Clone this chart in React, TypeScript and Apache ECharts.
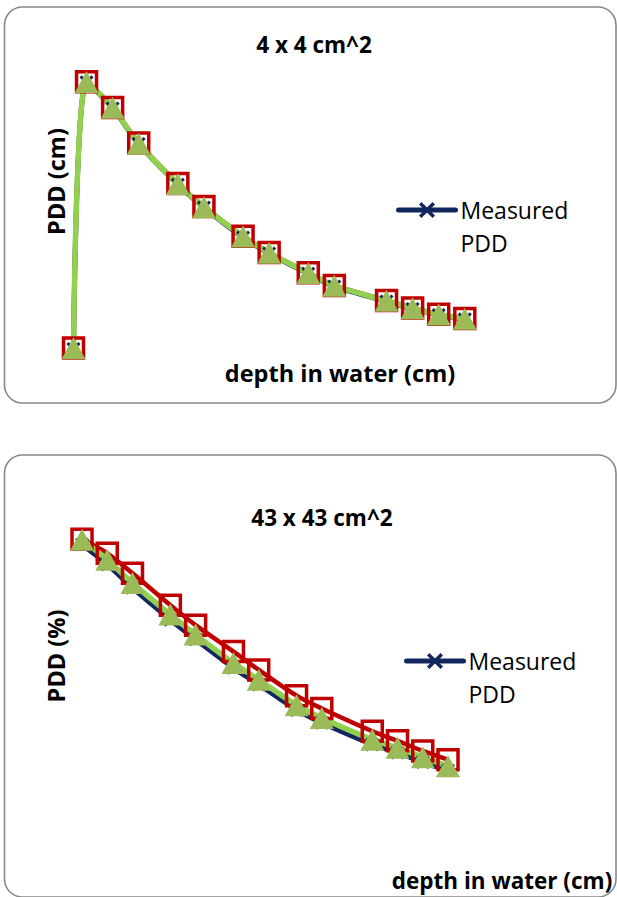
import React, { useEffect, useRef } from "react";
import * as echarts from "echarts";

// ---------- data ----------
const depths4 = [0, 1, 3, 5, 8, 10, 13, 15, 18, 20, 24, 26, 28, 30];
const measured4 = [18.0, 99.8, 91.8, 80.9, 68.4, 61.4, 52.2, 47.3, 41.1, 37.2, 32.6, 30.3, 28.4, 27.1];
const calcA4 = [18.3, 100.0, 92.1, 81.2, 68.8, 61.7, 52.6, 47.6, 41.4, 37.5, 32.9, 30.6, 28.7, 27.4];
const calcB4 = [18.2, 99.9, 92.0, 81.0, 68.6, 61.5, 52.5, 47.5, 41.3, 37.4, 32.8, 30.5, 28.6, 27.3];

const depths43 = [1, 3, 5, 8, 10, 13, 15, 18, 20, 24, 26, 28, 30];
const measured43 = [98.6, 92.7, 85.8, 76.4, 70.6, 62.2, 57.3, 49.8, 46.0, 39.6, 37.2, 34.4, 31.9];
const calcA43 = [100.1, 96.0, 90.1, 80.7, 74.8, 67.0, 61.6, 54.0, 50.2, 43.5, 40.7, 37.7, 35.1];
const calcB43 = [100.0, 94.1, 87.2, 77.9, 72.0, 63.6, 58.7, 51.2, 47.4, 41.0, 38.6, 35.8, 33.2];

const titles = ["4 x 4 cm^2", "43 x 43 cm^2"];
const yTitles = ["PDD (cm)", "PDD (%)"];
const xTitle = "depth in water (cm)";
const seriesNames = ["Measured PDD", "Calculated PDD A", "Calculated PDD B"];

const NAVY = "#13275f";
const RED = "#c00000";
const GREEN_LINE = "#92d050";
const GREEN_MARK = "#9bbb59";
const XSYM =
  "path://M0,3 L3,0 L10,7 L17,0 L20,3 L13,10 L20,17 L17,20 L10,13 L3,20 L0,17 L7,10 Z";

const FONT = '"Open Sans", "Noto Sans", sans-serif';

function pairs(xs: number[], ys: number[]) {
  return xs.map((x, i) => [x, ys[i]]);
}

export default function App() {
  const ref = useRef<HTMLDivElement>(null);
  useEffect(() => {
    if (!ref.current) return;
    const chart = echarts.init(ref.current, null, { renderer: "svg" });

    const mkSeries = (idx: number, xs: number[], m: number[], a: number[], b: number[], smooth: number | boolean) => [
      {
        name: seriesNames[0],
        type: "line",
        xAxisIndex: idx,
        yAxisIndex: idx,
        data: pairs(xs, m),
        smooth,
        clip: false,
        symbol: XSYM,
        symbolSize: 14,
        itemStyle: { color: NAVY },
        lineStyle: { color: NAVY, width: 5 },
      },
      {
        name: seriesNames[1],
        type: "line",
        xAxisIndex: idx,
        yAxisIndex: idx,
        data: pairs(xs, a),
        smooth,
        clip: false,
        symbol: "rect",
        symbolSize: 20,
        itemStyle: { color: "rgba(0,0,0,0)", borderColor: RED, borderWidth: 3.5 },
        lineStyle: { color: RED, width: 4.5 },
      },
      {
        name: seriesNames[2],
        type: "line",
        xAxisIndex: idx,
        yAxisIndex: idx,
        data: pairs(xs, b),
        smooth,
        clip: false,
        symbol: "triangle",
        symbolSize: [24, 22],
        itemStyle: { color: GREEN_MARK },
        lineStyle: { color: GREEN_LINE, width: 5.5 },
      },
    ];

    const legendCommon = {
      data: [seriesNames[0]],
      orient: "vertical",
      padding: 0,
      itemWidth: 57,
      itemHeight: 20,
      selectedMode: false,
      lineStyle: { width: 5, cap: "round" },
      formatter: () => "\nMeasured\nPDD",
      textStyle: { fontFamily: FONT, fontSize: 23, color: "#000", lineHeight: 33 },
    };

    const text = (x: number, y: number, t: string, size: number, bold: boolean, rotation = 0) => ({
      type: "text",
      x,
      y,
      rotation,
      style: {
        text: t,
        font: `${bold ? "bold " : ""}${size}px ${FONT}`,
        fill: "#000",
        align: "center",
        verticalAlign: "middle",
        textAlign: "center",
        textVerticalAlign: "middle",
      },
    });

    chart.setOption({
      animation: false,
      backgroundColor: "#fff",
      grid: [
        { left: 73.5, width: 391.3, top: 65.4, height: 309.7 },
        { left: 69.4, width: 378.6, top: 522.75, height: 254.25 },
      ],
      xAxis: [
        { type: "value", gridIndex: 0, min: 0, max: 30, show: false },
        { type: "value", gridIndex: 1, min: 0, max: 30, show: false },
      ],
      yAxis: [
        { type: "value", gridIndex: 0, min: 10, max: 105, show: false },
        { type: "value", gridIndex: 1, min: 30, max: 105, show: false },
      ],
      legend: [
        { ...legendCommon, left: 396, top: 160.5 },
        { ...legendCommon, left: 404, top: 611.5 },
      ],
      series: [
        ...mkSeries(0, depths4, measured4, calcA4, calcB4, 0.3),
        ...mkSeries(1, depths43, measured43, calcA43, calcB43, 0.3),
      ],
      graphic: [
        {
          type: "rect",
          z: -10,
          shape: { x: 4.5, y: 7, width: 611.5, height: 396, r: 18 },
          style: { fill: "none", stroke: "#888", lineWidth: 1.6 },
        },
        {
          type: "rect",
          z: -10,
          shape: { x: 4.5, y: 455, width: 611.5, height: 442, r: 18 },
          style: { fill: "none", stroke: "#888", lineWidth: 1.6 },
        },
        text(314, 44.5, titles[0], 22.5, true),
        text(56, 181.5, yTitles[0], 23.5, true, Math.PI / 2),
        text(340, 373, xTitle, 23.5, true),
        text(322, 517, titles[1], 22.5, true),
        text(56, 656, yTitles[1], 23.5, true, Math.PI / 2),
        text(502, 880, xTitle, 22.5, true),
      ],
    });
    return () => chart.dispose();
  }, []);
  return (
    <div
      ref={ref}
      style={{ position: "fixed", left: 0, top: 0, width: 617, height: 897, background: "#fff" }}
    />
  );
}
